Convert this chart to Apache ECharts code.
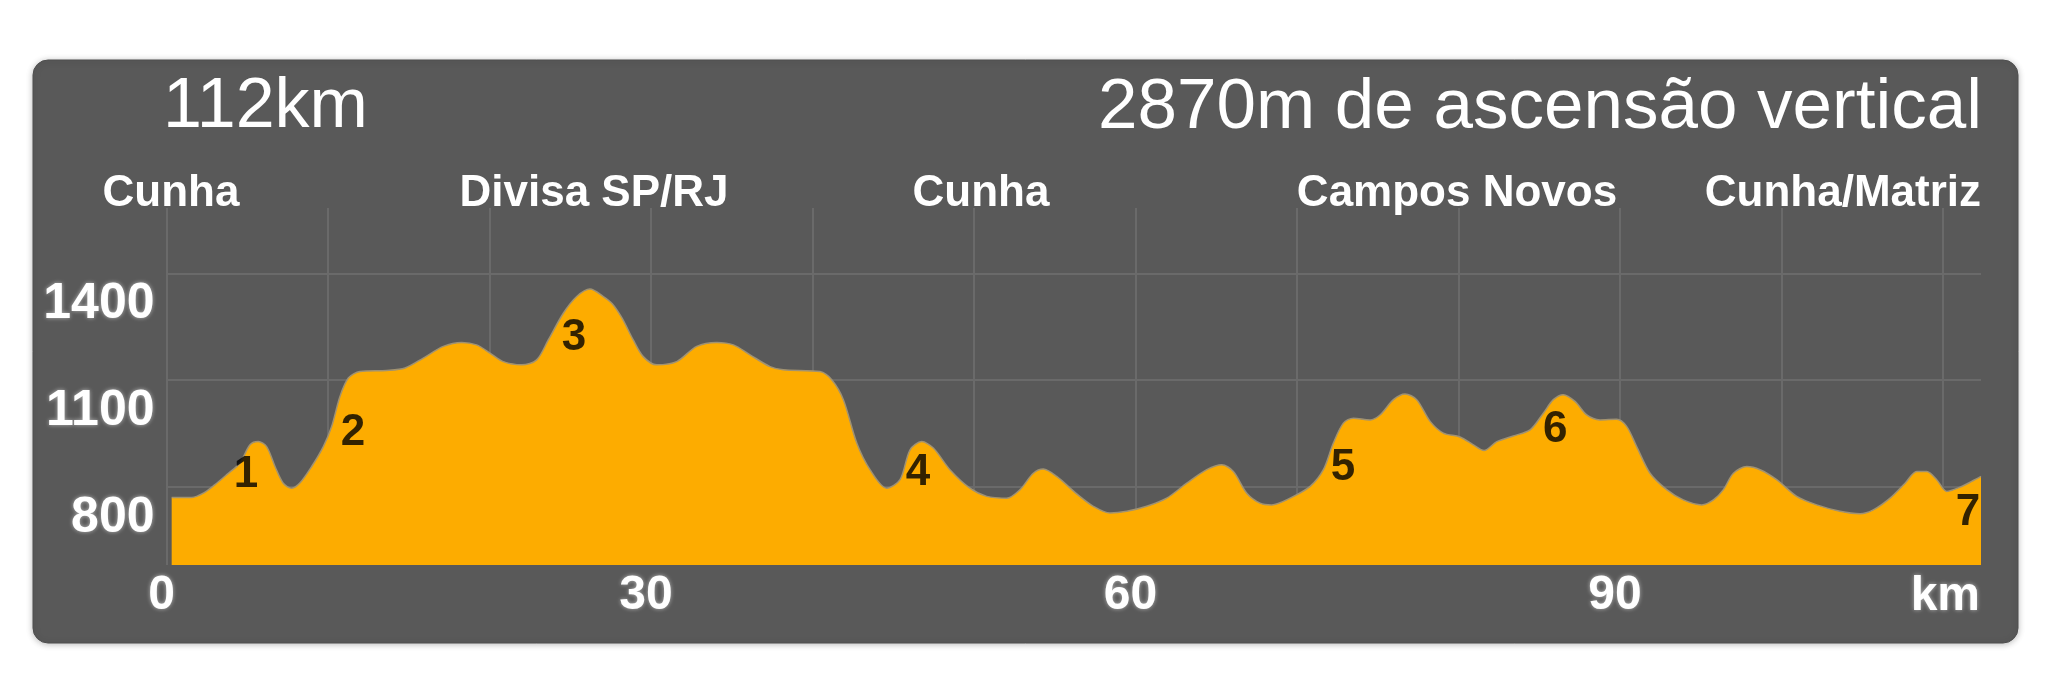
<!DOCTYPE html>
<html>
<head>
<meta charset="utf-8">
<script src="https://cdn.jsdelivr.net/npm/echarts@6/dist/echarts.min.js"></script>
<style>
html,body{margin:0;padding:0;background:#ffffff;}
#chart{width:2048px;height:673px;}
</style>
</head>
<body>
<div id="chart"></div>
<script>
// ---------- DATA ----------
const distanceKm = [
  0.32, 1.56, 2.28, 3.0, 3.73, 4.55, 5.17, 5.68, 6.2, 6.72, 7.23, 7.75, 8.27, 8.99, 9.71,
  10.23, 10.74, 11.26, 11.98, 13.63, 14.77, 15.9, 17.14, 18.28, 19.2, 20.03, 20.85, 22.0,
  22.92, 23.64, 24.57, 25.4, 26.22, 27.05, 27.6, 28.2, 28.9, 29.52, 30.35, 31.59, 32.83,
  34.07, 35.1, 36.13, 37.37, 38.19, 40.46, 41.19, 41.91, 42.74, 43.56, 44.59, 45.42, 46.04,
  46.76, 47.48, 48.51, 49.75, 50.79, 52.02, 52.85, 53.67, 54.29, 55.12, 56.36, 57.39, 58.42,
  59.46, 60.69, 61.93, 63.17, 64.41, 65.34, 66.06, 66.89, 67.71, 68.43, 69.57, 70.81, 71.63,
  72.25, 72.87, 73.49, 74.52, 75.14, 75.97, 76.69, 77.41, 78.24, 79.06, 80.09, 80.92, 81.58,
  82.37, 83.39, 84.43, 85.25, 85.87, 86.49, 87.21, 87.94, 88.76, 89.79, 90.41, 91.03, 91.86,
  92.89, 93.92, 95.06, 95.78, 96.4, 97.02, 97.85, 98.67, 99.7, 100.94, 102.18, 103.62,
  104.86, 105.68, 106.72, 107.65, 108.37, 108.99, 109.61, 110.23, 111.05, 111.77, 112.35
];
const elevationM = [
  770, 770, 782, 806, 834, 867, 918, 927, 913, 857, 810, 796, 811, 857, 913,
  970, 1054, 1106, 1124, 1127, 1134, 1162, 1195, 1206, 1199, 1176, 1152, 1143,
  1157, 1213, 1288, 1335, 1356, 1335, 1315, 1275, 1213, 1166, 1143, 1152, 1195,
  1206, 1199, 1171, 1138, 1129, 1124, 1101, 1045, 923, 848, 796, 820, 904,
  927, 909, 848, 796, 773, 768, 792, 838, 850, 829, 780, 745, 726,
  731, 745, 768, 810, 848, 862, 843, 782, 754, 749, 768, 801, 848,
  923, 979, 993, 988, 1002, 1045, 1061, 1045, 984, 951, 940, 918, 902,
  927, 943, 960, 1007, 1045, 1059, 1040, 1002, 988, 990, 970, 913, 838,
  792, 763, 749, 763, 792, 838, 857, 848, 820, 773, 749, 731,
  724, 735, 768, 810, 843, 843, 820, 787, 799, 815, 829
];
const yGridValues = [800, 1100, 1400];
const xLabelValues = [0, 30, 60, 90];
const xUnitLabel = 'km';
const stageNumbers = ['1', '2', '3', '4', '5', '6', '7'];
const stageKm = [4.92, 11.55, 25.23, 46.53, 72.85, 85.98, 111.55];
const stageElev = [834, 952, 1219, 839, 853, 960, 727];
const placeNames = ['Cunha', 'Divisa SP/RJ', 'Cunha', 'Campos Novos', 'Cunha/Matriz'];
const totalDistanceText = '112km';
const totalClimbText = '2870m de ascensão vertical';

// ---------- LAYOUT / STYLE ----------
const FONT = '"Liberation Sans", Arial, sans-serif';
const GRID_COLOR = '#6a6a6a';
const CLEAR = 'rgba(0,0,0,0)';
const X_MIN = 0, X_MAX = 112.35, X_STEP = 10;
const Y_MIN = 580, Y_MAX = 1584, Y_STEP = 20;

const xTicks = [];
for (let v = X_MIN; v <= X_MAX + 1e-9; v += X_STEP) xTicks.push(v);
if (xTicks[xTicks.length - 1] !== X_MAX) xTicks.push(X_MAX);
const xLineColors = xTicks.map(v => (v === X_MAX ? CLEAR : GRID_COLOR));

const yTicks = [];
for (let v = Y_MIN; v <= Y_MAX; v += Y_STEP) yTicks.push(v);
if (yTicks[yTicks.length - 1] !== Y_MAX) yTicks.push(Y_MAX);
const yLineColors = yTicks.map(v => (yGridValues.indexOf(v) >= 0 ? GRID_COLOR : CLEAR));

const placeX = [171, 594, 981, 1457, 1981];
const placeAlign = ['center', 'center', 'center', 'center', 'right'];

const glow = { textShadowColor: 'rgba(255,255,255,0.55)', textShadowBlur: 4 };

function txt(text, x, y, size, weight, align, extra) {
  return Object.assign({
    type: 'text', x: x, y: y, z: 50,
    style: {
      text: text, fill: '#ffffff', fontSize: size, fontWeight: weight, fontFamily: FONT,
      textAlign: align, align: align, textVerticalAlign: 'middle', verticalAlign: 'middle'
    }
  }, extra || {});
}

const graphics = [
  {
    type: 'rect', z: -100,
    shape: { x: 33, y: 60, width: 1985, height: 583, r: 15 },
    style: { fill: '#595959', stroke: '#4f4f4f', lineWidth: 1,
             shadowBlur: 6, shadowColor: 'rgba(0,0,0,0.25)', shadowOffsetY: 1 }
  },
  txt(totalDistanceText, 163, 108, 70, 'normal', 'left'),
  txt(totalClimbText, 1982, 108, 71, 'normal', 'right')
];
placeNames.forEach((n, i) => graphics.push(txt(n, placeX[i], 194, 44, 'bold', placeAlign[i])));
const kmText = txt(xUnitLabel, 1980, 597, 48, 'bold', 'right');
Object.assign(kmText.style, glow);
graphics.push(kmText);

const chart = echarts.init(document.getElementById('chart'), null, { renderer: 'canvas' });
chart.setOption({
  backgroundColor: '#ffffff',
  animation: false,
  graphic: { elements: graphics },
  grid: { left: 166.5, right: 2048 - 1981, top: 208, height: 357, containLabel: false },
  xAxis: {
    type: 'value', min: X_MIN, max: X_MAX, interval: X_STEP,
    axisLine: { show: false }, axisTick: { show: false },
    splitLine: { show: true, lineStyle: { color: xLineColors, width: 2 } },
    axisLabel: Object.assign({
      show: true, margin: 7, color: '#ffffff', fontSize: 48, fontWeight: 'bold', fontFamily: FONT,
      padding: [0, 10, 0, 0],
      formatter: v => (xLabelValues.indexOf(v) >= 0 ? String(v) : '')
    }, glow)
  },
  yAxis: {
    type: 'value', min: Y_MIN, max: Y_MAX, interval: Y_STEP,
    axisLine: { show: false }, axisTick: { show: false },
    splitLine: { show: true, lineStyle: { color: yLineColors, width: 2 } },
    axisLabel: Object.assign({
      show: true, margin: 12, color: '#ffffff', fontSize: 50, fontWeight: 'bold', fontFamily: FONT,
      verticalAlign: 'top', lineHeight: 62,
      formatter: v => (yGridValues.indexOf(v) >= 0 ? String(v) : '')
    }, glow)
  },
  series: [
    {
      type: 'line',
      data: distanceKm.map((k, i) => [k, elevationM[i]]),
      smooth: 0.3, symbol: 'none', silent: true,
      lineStyle: { color: '#a09272', width: 1.5 },
      areaStyle: { color: '#FDAC00', opacity: 1 },
      z: 2
    },
    {
      type: 'scatter',
      data: stageKm.map((k, i) => [k, stageElev[i], stageNumbers[i]]),
      symbolSize: 1, silent: true,
      itemStyle: { color: CLEAR },
      label: {
        show: true, position: 'inside', formatter: p => p.data[2],
        color: '#000000', fontSize: 44, fontWeight: 'bold', fontFamily: FONT
      },
      z: 5
    }
  ]
});
</script>
</body>
</html>
